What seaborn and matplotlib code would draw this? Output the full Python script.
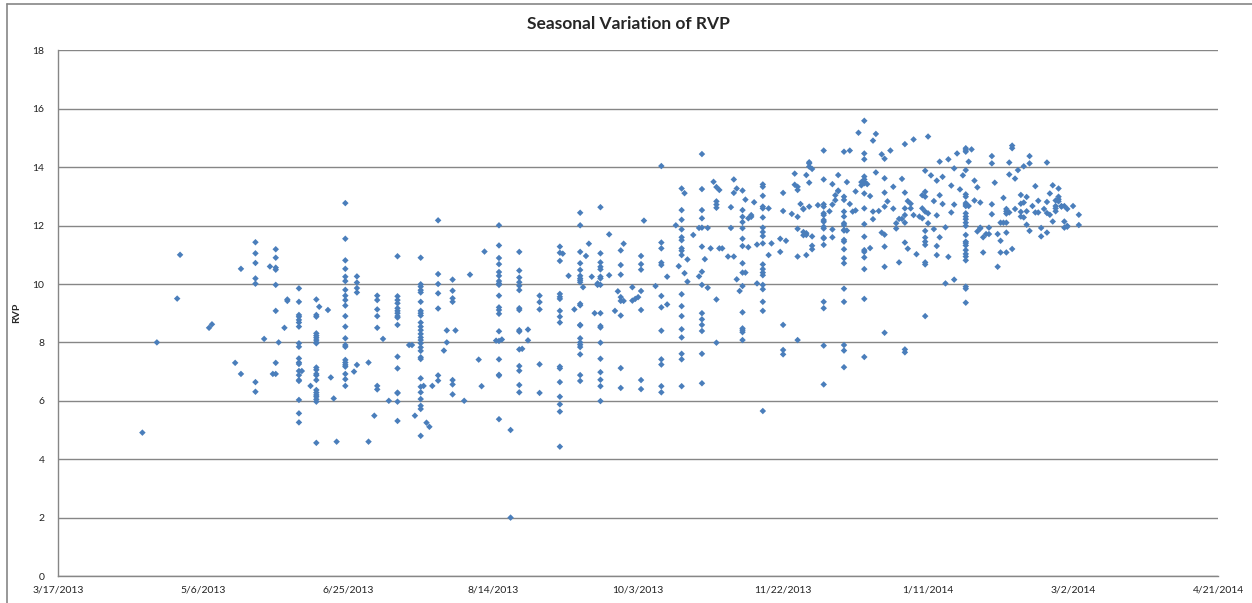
import matplotlib
matplotlib.use('Agg')
import matplotlib.pyplot as plt
import matplotlib.dates as mdates
import seaborn as sns
import pandas as pd
from matplotlib.lines import Line2D

# sampling days, counted from 3/17/2013, and the RVP readings taken on each
start_date = '2013-03-17'
sample_days = [
    29, 34, 41, 42, 52, 53, 61, 63, 68, 71, 73, 74, 75, 76, 78, 79, 83, 84, 87, 89,
    90, 93, 94, 95, 96, 99, 102, 103, 107, 109, 110, 112, 114, 117, 121, 122, 123, 125, 126, 127,
    128, 129, 131, 133, 134, 136, 137, 140, 142, 145, 146, 147, 151, 152, 153, 156, 159, 160, 162, 166,
    173, 174, 176, 178, 180, 181, 182, 183, 184, 185, 186, 187, 190, 192, 193, 194, 195, 198, 199, 200,
    201, 202, 206, 208, 210, 213, 214, 215, 216, 217, 219, 221, 222, 223, 224, 225, 226, 227, 228, 229,
    231, 232, 233, 234, 235, 236, 237, 238, 239, 240, 241, 243, 245, 246, 249, 250, 251, 253, 254, 255,
    256, 257, 258, 259, 260, 262, 264, 266, 267, 268, 269, 271, 272, 273, 274, 275, 276, 277, 278, 279,
    280, 281, 282, 283, 284, 285, 286, 287, 288, 289, 290, 291, 292, 293, 294, 295, 296, 297, 298, 299,
    300, 301, 302, 303, 304, 305, 306, 307, 308, 309, 310, 311, 312, 313, 314, 315, 316, 317, 318, 319,
    320, 321, 322, 323, 324, 325, 326, 327, 328, 329, 330, 331, 332, 333, 334, 335, 336, 337, 338, 339,
    340, 341, 342, 343, 344, 345, 346, 347, 348, 350, 352,
]
rvp_values = [
    [4.91], [8.0], [9.5], [11.0], [8.5], [8.62], [7.3], [10.52, 6.92],
    [11.43, 11.05, 10.72, 10.19, 10.01, 6.64, 6.31], [8.12], [10.6], [6.92],
    [11.19, 10.9, 10.56, 10.49, 9.97, 9.08, 7.3, 6.92], [8.0], [8.5], [9.47, 9.42],
    [9.85, 9.39, 8.94, 8.88, 8.77, 8.68, 8.54, 7.97, 7.85, 7.45, 7.31, 7.26, 7.02, 6.88, 6.71, 6.68, 6.03, 5.57, 5.26],
    [7.02], [6.51],
    [9.47, 8.94, 8.88, 8.31, 8.23, 8.16, 8.08, 8.0, 7.97, 7.14, 7.06, 6.92, 6.87, 6.71, 6.37, 6.28, 6.2, 6.14, 6.05, 5.97, 4.56],
    [9.22], [9.11], [6.8], [6.08], [4.6],
    [12.77, 11.55, 10.81, 10.52, 10.25, 10.1, 9.8, 9.6, 9.45, 9.26, 8.9, 8.54, 8.14, 7.91, 7.85, 7.4, 7.31, 7.23, 7.17, 6.92, 6.74, 6.51],
    [7.0], [10.26, 10.05, 9.86, 9.71, 7.23], [7.31, 4.6], [5.49],
    [9.6, 9.45, 9.13, 8.9, 8.5, 6.51, 6.39], [8.12], [6.0],
    [10.95, 9.58, 9.45, 9.34, 9.17, 9.08, 9.0, 8.9, 8.85, 8.6, 7.51, 7.11, 6.28, 6.26, 5.97, 5.31],
    [7.91], [7.91], [5.49],
    [10.9, 9.99, 9.91, 9.79, 9.71, 9.39, 9.08, 9.0, 8.92, 8.68, 8.54, 8.42, 8.29, 8.17, 8.08, 7.97, 7.83, 7.71, 7.49, 7.43, 6.77, 6.48, 6.29, 6.06, 5.83, 5.72, 4.8],
    [6.51], [5.25],
    [5.11], [6.51], [12.18, 10.34, 10.0, 9.68, 9.16, 6.87, 6.69], [7.72], [8.41, 8.0],
    [10.15, 9.77, 9.51, 9.39, 6.71, 6.56, 6.22], [8.41], [6.0], [10.32], [7.41], [6.5], [11.11], [8.06],
    [12.01, 11.32, 10.89, 10.68, 10.41, 10.28, 10.1, 10.02, 9.97, 9.6, 9.2, 9.11, 8.98, 8.38, 8.05, 7.42, 6.89, 6.86, 5.37],
    [8.1], [5.0, 2.0],
    [11.1, 10.46, 10.22, 10.06, 9.94, 9.79, 9.17, 9.11, 8.42, 8.37, 7.76, 7.19, 7.03, 6.54, 6.29],
    [7.78], [8.44, 8.07], [9.6, 9.38, 9.13, 7.25, 6.27],
    [11.28, 11.07, 10.79, 9.66, 9.56, 9.49, 9.08, 8.88, 8.68, 7.17, 7.11, 6.64, 6.14, 5.88, 5.63, 4.43],
    [11.04], [10.28], [9.13],
    [12.44, 12.01, 11.1, 10.71, 10.48, 10.28, 10.19, 10.13, 10.06, 9.32, 9.27, 8.6, 8.58, 8.14, 8.0, 7.92, 7.84, 7.59, 6.88, 6.68],
    [9.89], [10.96], [11.38], [10.25], [9.0], [10.02, 9.97],
    [12.63, 11.05, 10.74, 10.59, 10.5, 10.25, 10.19, 9.97, 9.0, 8.56, 8.51, 7.99, 7.44, 6.98, 6.72, 6.5, 5.99],
    [11.7, 10.3], [9.08], [9.75], [11.15, 10.65, 10.32, 9.55, 9.42, 8.92, 7.12, 6.44], [11.38, 9.42],
    [9.89, 9.43], [9.49], [9.55],
    [10.96, 10.68, 10.49, 9.76, 9.11, 6.71, 6.4], [12.17], [9.93],
    [14.04, 11.42, 11.22, 10.73, 10.65, 9.59, 9.2, 8.4, 7.42, 7.24, 6.5, 6.29],
    [10.25, 9.3], [12.01], [10.61],
    [13.27, 12.53, 12.2, 11.87, 11.6, 11.5, 11.22, 11.14, 10.99, 9.65, 9.24, 8.9, 8.45, 8.17, 7.61, 7.42, 6.5],
    [13.11, 10.37], [10.84, 10.08], [11.68], [11.92, 10.26],
    [14.45, 13.25, 12.53, 12.25, 11.93, 11.28, 10.42, 9.97, 9.0, 8.79, 8.6, 8.39, 7.61, 6.6],
    [10.85], [11.92, 9.87], [11.22], [13.5], [13.32, 12.83, 12.72, 12.61, 9.47, 7.99], [13.22, 11.22], [11.22],
    [10.94], [12.63, 11.92], [13.58, 13.12, 10.94], [13.27, 10.16], [9.76],
    [13.2, 12.53, 12.3, 12.12, 11.91, 11.55, 11.3, 10.71, 10.39, 9.93, 9.03, 8.48, 8.42, 8.35, 8.08],
    [12.89, 10.39], [12.25, 11.26], [12.36, 12.3], [12.8], [11.35, 10.02],
    [13.41, 13.33, 13.02, 12.65, 12.59, 12.28, 11.93, 11.78, 11.64, 11.39, 10.67, 10.51, 10.39, 10.3, 9.97, 9.82, 9.39, 9.08, 5.65],
    [12.59, 10.99], [11.39], [11.55, 11.1], [13.12, 12.5, 8.6, 7.74, 7.59], [11.48], [12.4], [13.78, 13.4],
    [13.33, 13.22, 12.3, 11.89, 10.94, 8.08],
    [12.74], [12.58, 12.56, 11.78, 11.67], [13.73, 11.74, 11.68, 10.99], [14.17, 14.13, 14.02, 13.47, 12.65],
    [13.94, 11.63, 11.31, 11.19], [12.7],
    [14.57, 13.58, 12.73, 12.65, 12.42, 12.36, 12.19, 12.13, 11.96, 11.9, 11.59, 11.56, 11.34, 9.39, 9.17, 7.89, 6.56],
    [12.49], [13.42, 12.72, 11.87, 11.6], [13.04, 12.87], [13.73, 13.2, 13.18],
    [14.53, 12.99, 12.88, 12.48, 12.31, 12.08, 12.02, 11.85, 11.83, 11.51, 11.45, 11.19, 10.88, 10.71, 9.84, 9.39, 7.91, 7.72, 7.15],
    [13.49, 11.83], [14.57, 12.74], [12.48], [13.17, 12.52], [15.18], [13.49, 13.38],
    [15.59, 14.47, 14.27, 13.68, 13.58, 13.5, 13.45, 13.1, 12.59, 12.05, 11.62, 11.16, 11.1, 10.91, 10.51, 9.49, 7.5],
    [13.42],
    [13.01, 11.23], [14.91, 12.48, 12.22], [15.14, 13.82], [12.5], [14.44, 11.76],
    [14.29, 13.62, 13.13, 12.65, 11.69, 11.28, 10.59, 8.33], [12.83], [14.57], [13.33, 12.58], [12.08, 11.9],
    [12.23, 10.74], [13.6, 12.23], [14.79, 13.13, 12.59, 12.36, 12.1, 11.42, 7.76, 7.66], [12.84, 11.21],
    [12.75, 12.59], [14.95, 12.36], [11.02], [12.31], [13.04, 12.59, 12.25],
    [13.88, 13.16, 12.99, 12.48, 11.82, 11.59, 11.45, 11.34, 10.74, 10.67, 8.9],
    [15.05, 12.42, 12.08], [13.72], [12.84, 11.88], [13.54, 12.35, 11.3, 10.99], [14.19, 13.04, 11.6],
    [13.67, 12.74], [11.94, 10.02], [14.27, 10.93], [13.37, 12.45], [13.96, 12.72, 10.15], [14.47], [13.24],
    [13.72],
    [14.65, 14.59, 14.53, 13.9, 13.07, 12.99, 12.77, 12.71, 12.67, 12.42, 12.31, 12.22, 12.1, 11.99, 11.68, 11.45, 11.4, 11.32, 11.16, 11.03, 10.94, 10.81, 9.91, 9.84, 9.36],
    [14.19, 12.67], [14.61], [13.54, 12.86], [13.31, 11.8], [12.79, 11.93, 11.9], [11.6, 11.08],
    [11.71], [11.93, 11.71], [14.38, 14.13, 12.73, 12.39], [13.47], [11.71, 10.59], [12.1, 11.48, 11.08],
    [12.95, 12.1], [12.57, 12.49, 12.41, 12.1, 11.76, 11.08], [14.16, 13.75, 12.45], [14.74, 14.65, 11.2],
    [13.61, 12.57], [13.9], [13.05, 12.75, 12.47, 12.31], [14.03, 12.79, 12.28], [12.98, 12.49, 12.03],
    [14.38, 14.13, 11.82], [12.67], [13.35, 12.45], [12.85, 12.45], [11.92, 11.63],
    [12.57], [14.16, 12.81, 12.43, 11.76], [13.1, 12.37], [13.38, 12.14], [12.86, 12.67, 12.59, 12.49],
    [13.27, 12.99, 12.9, 12.83], [12.67, 12.65], [12.67, 12.14, 11.93], [12.57, 11.99, 11.96], [12.67],
    [12.37, 12.02],
]

x_ticks = ['2013-03-17', '2013-05-06', '2013-06-25', '2013-08-14', '2013-10-03',
           '2013-11-22', '2014-01-11', '2014-03-02', '2014-04-21']
y_ticks = [0, 2, 4, 6, 8, 10, 12, 14, 16, 18]

rows = []
for d, vals in zip(sample_days, rvp_values):
    for v in vals:
        rows.append((pd.Timestamp(start_date) + pd.Timedelta(days=d), v))
df = pd.DataFrame(rows, columns=['date', 'rvp'])

sns.set_style('white')
plt.rcParams['font.family'] = ['Lato', 'DejaVu Sans']

W, H = 1252, 603
fig = plt.figure(figsize=(W / 100, H / 100), dpi=100)
ax = fig.add_axes([58.3 / W, 1 - 576 / H, (1218 - 58.3) / W, (576 - 50.4) / H])

sns.scatterplot(data=df, x='date', y='rvp', marker='D', s=11, color='#4A7EBB',
                edgecolor='none', linewidth=0, ax=ax, zorder=3)

tick_dates = pd.to_datetime(x_ticks)
ax.set_xlim(tick_dates[0], tick_dates[-1])
ax.set_xticks(tick_dates)
ax.set_xticklabels([f'{d.month}/{d.day}/{d.year}' for d in tick_dates])
ax.set_ylim(0, 18)
ax.set_yticks(y_ticks)

ax.yaxis.grid(True, color='#868686', linewidth=1.0, zorder=0)
ax.xaxis.grid(False)
ax.set_axisbelow(True)
for s in ['top', 'right']:
    ax.spines[s].set_visible(False)
for s in ['left', 'bottom']:
    ax.spines[s].set_color('#868686')
    ax.spines[s].set_linewidth(1.0)

ax.tick_params(axis='x', length=4, width=1, color='#868686', direction='out',
               labelsize=7.5, labelcolor='#222222', pad=3)
ax.tick_params(axis='y', length=0, labelsize=7.5, labelcolor='#222222', pad=10)

ax.set_xlabel('')
ax.set_ylabel('RVP', fontsize=7.5, fontweight='bold', labelpad=8)

fig.text(628 / W, 1 - 24 / H, 'Seasonal Variation of RVP', ha='center', va='center',
         fontsize=12.5, fontweight='bold')

# chart-area border (left and top edges visible)
fig.add_artist(Line2D([6.5 / W, 6.5 / W], [0, 1 - 3.5 / H], transform=fig.transFigure,
                      color='#868686', linewidth=1.2))
fig.add_artist(Line2D([6.5 / W, 1], [1 - 3.5 / H, 1 - 3.5 / H], transform=fig.transFigure,
                      color='#868686', linewidth=1.2))

fig.savefig('out.png', dpi=100)
